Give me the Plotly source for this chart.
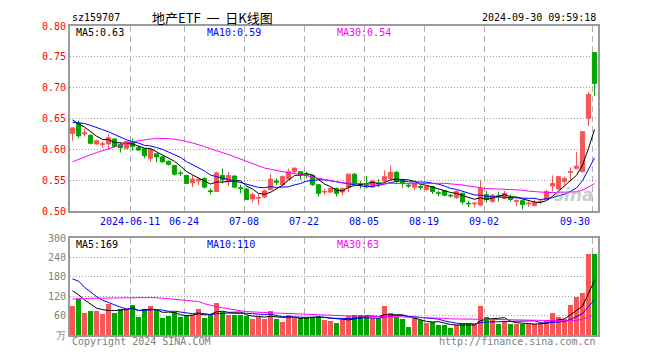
import plotly.graph_objects as go
import pandas as pd

W, H = 660, 360

dates = [
    "2024-05-27", "2024-05-28", "2024-05-29", "2024-05-30", "2024-05-31",
    "2024-06-03", "2024-06-04", "2024-06-05", "2024-06-06", "2024-06-07",
    "2024-06-11", "2024-06-12", "2024-06-13", "2024-06-14",
    "2024-06-17", "2024-06-18", "2024-06-19", "2024-06-20", "2024-06-21",
    "2024-06-24", "2024-06-25", "2024-06-26", "2024-06-27", "2024-06-28",
    "2024-07-01", "2024-07-02", "2024-07-03", "2024-07-04", "2024-07-05",
    "2024-07-08", "2024-07-09", "2024-07-10", "2024-07-11", "2024-07-12",
    "2024-07-15", "2024-07-16", "2024-07-17", "2024-07-18", "2024-07-19",
    "2024-07-22", "2024-07-23", "2024-07-24", "2024-07-25", "2024-07-26",
    "2024-07-29", "2024-07-30", "2024-07-31", "2024-08-01", "2024-08-02",
    "2024-08-05", "2024-08-06", "2024-08-07", "2024-08-08", "2024-08-09",
    "2024-08-12", "2024-08-13", "2024-08-14", "2024-08-15", "2024-08-16",
    "2024-08-19", "2024-08-20", "2024-08-21", "2024-08-22", "2024-08-23",
    "2024-08-26", "2024-08-27", "2024-08-28", "2024-08-29", "2024-08-30",
    "2024-09-02", "2024-09-03", "2024-09-04", "2024-09-05", "2024-09-06",
    "2024-09-09", "2024-09-10", "2024-09-11", "2024-09-12", "2024-09-13",
    "2024-09-18", "2024-09-19", "2024-09-20",
    "2024-09-23", "2024-09-24", "2024-09-25", "2024-09-26", "2024-09-27",
    "2024-09-30",
]

open_ = [
    0.626, 0.643, 0.625, 0.623, 0.609, 0.608, 0.609, 0.617, 0.608, 0.602,
    0.613, 0.603, 0.601, 0.586, 0.593, 0.588, 0.581, 0.574, 0.562, 0.558,
    0.546, 0.549, 0.553, 0.533, 0.532, 0.558, 0.548, 0.557, 0.538, 0.536,
    0.520, 0.521, 0.523, 0.535, 0.549, 0.543, 0.552, 0.564, 0.564, 0.559,
    0.558, 0.543, 0.531, 0.531, 0.537, 0.531, 0.538, 0.560, 0.543, 0.543,
    0.539, 0.546, 0.549, 0.553, 0.563, 0.550, 0.542, 0.539, 0.540, 0.535,
    0.540, 0.530, 0.533, 0.526, 0.522, 0.529, 0.513, 0.512, 0.510, 0.527,
    0.516, 0.525, 0.521, 0.522, 0.516, 0.517, 0.512, 0.509, 0.515, 0.519,
    0.541, 0.536, 0.548, 0.563, 0.569, 0.564, 0.650, 0.757,
]
high = [
    0.636, 0.647, 0.634, 0.624, 0.616, 0.613, 0.625, 0.618, 0.611, 0.614,
    0.618, 0.606, 0.602, 0.601, 0.594, 0.589, 0.582, 0.575, 0.566, 0.559,
    0.558, 0.553, 0.555, 0.537, 0.564, 0.569, 0.564, 0.558, 0.543, 0.537,
    0.530, 0.528, 0.535, 0.560, 0.553, 0.558, 0.569, 0.570, 0.565, 0.564,
    0.559, 0.544, 0.537, 0.539, 0.538, 0.538, 0.561, 0.562, 0.549, 0.557,
    0.550, 0.552, 0.566, 0.574, 0.565, 0.551, 0.544, 0.546, 0.543, 0.541,
    0.541, 0.533, 0.534, 0.528, 0.534, 0.530, 0.517, 0.514, 0.550, 0.533,
    0.528, 0.532, 0.533, 0.527, 0.519, 0.519, 0.516, 0.519, 0.518, 0.535,
    0.558, 0.557, 0.556, 0.571, 0.596, 0.629, 0.693, 0.757,
]
low = [
    0.614, 0.618, 0.621, 0.608, 0.608, 0.602, 0.600, 0.603, 0.595, 0.600,
    0.598, 0.598, 0.586, 0.580, 0.579, 0.578, 0.574, 0.558, 0.557, 0.544,
    0.539, 0.542, 0.537, 0.527, 0.531, 0.545, 0.541, 0.537, 0.529, 0.518,
    0.514, 0.510, 0.521, 0.534, 0.542, 0.541, 0.551, 0.561, 0.551, 0.553,
    0.541, 0.524, 0.526, 0.530, 0.524, 0.526, 0.531, 0.544, 0.537, 0.537,
    0.538, 0.539, 0.546, 0.550, 0.545, 0.538, 0.538, 0.534, 0.535, 0.533,
    0.528, 0.524, 0.524, 0.522, 0.520, 0.511, 0.507, 0.506, 0.508, 0.514,
    0.514, 0.516, 0.519, 0.516, 0.508, 0.503, 0.507, 0.508, 0.512, 0.518,
    0.532, 0.535, 0.543, 0.548, 0.569, 0.563, 0.638, 0.687,
]
close = [
    0.635, 0.622, 0.627, 0.610, 0.614, 0.609, 0.619, 0.605, 0.603, 0.613,
    0.605, 0.599, 0.590, 0.600, 0.588, 0.580, 0.576, 0.560, 0.561, 0.545,
    0.552, 0.552, 0.539, 0.532, 0.562, 0.551, 0.558, 0.539, 0.537, 0.519,
    0.527, 0.522, 0.533, 0.552, 0.547, 0.556, 0.564, 0.570, 0.558, 0.558,
    0.543, 0.529, 0.532, 0.537, 0.529, 0.537, 0.560, 0.545, 0.542, 0.540,
    0.549, 0.545, 0.556, 0.563, 0.548, 0.545, 0.541, 0.545, 0.539, 0.540,
    0.532, 0.529, 0.526, 0.525, 0.532, 0.515, 0.512, 0.513, 0.537, 0.519,
    0.526, 0.524, 0.529, 0.519, 0.517, 0.511, 0.513, 0.514, 0.516, 0.532,
    0.545, 0.556, 0.553, 0.564, 0.573, 0.629, 0.689, 0.707,
]
volume = [  # 万手
    89, 112, 70, 74, 74, 67, 98, 69, 80, 82,
    95, 56, 80, 89, 77, 53, 59, 72, 57, 62,
    62, 80, 54, 65, 101, 72, 62, 62, 62, 60,
    50, 58, 51, 75, 51, 42, 62, 52, 54, 58,
    58, 59, 47, 44, 39, 48, 60, 62, 62, 62,
    52, 52, 89, 68, 57, 50, 26, 54, 46, 39,
    40, 32, 32, 24, 32, 36, 34, 34, 90, 56,
    48, 36, 42, 35, 34, 36, 34, 35, 35, 45,
    70, 56, 49, 95, 119, 131, 252, 250,
]

# sessions before the visible window (feed the moving averages only)
history_close = [
    0.500, 0.505, 0.508, 0.512, 0.515, 0.515, 0.518, 0.520, 0.524, 0.533,
    0.545, 0.552, 0.560, 0.566, 0.575, 0.583, 0.592, 0.600, 0.610, 0.627,
    0.632, 0.636, 0.640, 0.644, 0.648, 0.655, 0.652, 0.650, 0.648,
]
history_volume = [
    60, 72, 58, 66, 70, 62, 64, 68, 60, 70,
    80, 88, 95, 90, 102, 110, 98, 105, 92, 110,
    180, 260, 230, 205, 180, 170, 150, 140, 136,
]

tick_dates = ["2024-06-11", "2024-06-24", "2024-07-08", "2024-07-22",
              "2024-08-05", "2024-08-19", "2024-09-02", "2024-09-30"]
tick_labels = ["2024-06-11", "06-24", "07-08", "07-22",
               "08-05", "08-19", "09-02", "09-30"]
price_ticks = [0.50, 0.55, 0.60, 0.65, 0.70, 0.75, 0.80]
vol_ticks = [0, 60, 120, 180, 240, 300]
vol_tick_text = ["万", "60", "120", "180", "240", "300"]

RED = "#f75656"
GREEN = "#00a600"
MA_COLORS = {5: "#000000", 10: "#0000ff", 30: "#ff00ff"}
MONO = "DejaVu Sans Mono"

n = len(dates)
nh = len(history_close)
xs = list(range(n))
cs = pd.Series(history_close + close)
vs = pd.Series(history_volume + volume)
ma_p = {k: cs.rolling(k).mean().iloc[nh:].tolist() for k in (5, 10, 30)}
ma_v = {k: vs.rolling(k).mean().iloc[nh:].tolist() for k in (5, 10, 30)}

up = [c >= o for o, c in zip(open_, close)]
bar_colors = [RED if u else GREEN for u in up]

fig = go.Figure()
fig.add_trace(go.Candlestick(
    x=xs, open=open_, high=high, low=low, close=close,
    increasing=dict(line=dict(color=RED, width=1), fillcolor=RED),
    decreasing=dict(line=dict(color=GREEN, width=1), fillcolor=GREEN),
    whiskerwidth=0, xaxis="x", yaxis="y", showlegend=False, hoverinfo="skip"))
for k in (5, 10, 30):
    fig.add_trace(go.Scatter(x=xs, y=ma_p[k], mode="lines",
                             line=dict(color=MA_COLORS[k], width=1),
                             xaxis="x", yaxis="y", showlegend=False, hoverinfo="skip"))
fig.add_trace(go.Bar(x=xs, y=volume, marker=dict(color=bar_colors, line=dict(width=0)),
                     width=0.84, xaxis="x2", yaxis="y2", showlegend=False, hoverinfo="skip"))
for k in (5, 10, 30):
    fig.add_trace(go.Scatter(x=xs, y=ma_v[k], mode="lines",
                             line=dict(color=MA_COLORS[k], width=1),
                             xaxis="x2", yaxis="y2", showlegend=False, hoverinfo="skip"))

# pixel layout
L, R = 70, 598
P_TOP, P_BOT = 20.7, 212.3
V_TOP, V_BOT = 240.0, 340.7
OFF = 0.417  # grid line sits at the left edge of a candle
xr = [-OFF, n - OFF]
grid_x = [dates.index(d) - OFF for d in tick_dates]

def fy(py):
    return 1 - py / H

axis_common = dict(showline=True, linecolor="#9a9a9a", linewidth=2, mirror=True,
                   zeroline=False, ticks="", fixedrange=True)
fig.update_layout(
    width=W, height=H, margin=dict(l=0, r=0, t=0, b=0),
    paper_bgcolor="white", plot_bgcolor="white",
    boxgap=0.3, boxgroupgap=0, bargap=0,
    xaxis=dict(domain=[L / W, R / W], range=xr, tickvals=grid_x, showticklabels=False,
               showgrid=True, gridcolor="#b0b0b0", griddash="6px,4px", gridwidth=1,
               rangeslider=dict(visible=False), anchor="y", **axis_common),
    yaxis=dict(domain=[fy(P_BOT), fy(P_TOP)], range=[0.50, 0.80], tickvals=price_ticks,
               ticktext=[f"{v:.2f}" for v in price_ticks],
               tickfont=dict(family=MONO, size=10, color="#ff0000"),
               showgrid=True, gridcolor="#a0a0a0", griddash="1px,2px", gridwidth=1,
               anchor="x", **axis_common),
    xaxis2=dict(domain=[L / W, R / W], range=xr, tickvals=grid_x, showticklabels=False,
                showgrid=True, gridcolor="#b0b0b0", griddash="6px,4px", gridwidth=1,
                anchor="y2", **axis_common),
    yaxis2=dict(domain=[fy(V_BOT), fy(V_TOP)], range=[0, 300], tickvals=vol_ticks,
                ticktext=vol_tick_text,
                tickfont=dict(family=MONO, size=10, color="#808080"),
                showgrid=True, gridcolor="#a0a0a0", griddash="1px,2px", gridwidth=1,
                anchor="x2", **axis_common),
)

ann = []
def text(x, y, s, color="#000", size=10, family=MONO, anchor="left", xref="paper"):
    ann.append(dict(x=x if xref != "paper" else x / W, y=fy(y), xref=xref, yref="paper",
                    text=s, showarrow=False, xanchor=anchor, yanchor="middle",
                    font=dict(family=family, size=size, color=color)))

text(70, 12, "sz159707")
text(150, 12, "地产ETF\u00a0\u00a0一\u00a0\u00a0日K线图", size=13, family="Noto Sans CJK SC")
text(598, 12, "2024-09-30 09:59:18", anchor="right")

text(74, 27, f"MA5:{ma_p[5][-1]:.2f}", color=MA_COLORS[5])
text(205, 27, f"MA10:{ma_p[10][-1]:.2f}", color=MA_COLORS[10])
text(335, 27, f"MA30:{ma_p[30][-1]:.2f}", color=MA_COLORS[30])

text(74, 247, f"MA5:{ma_v[5][-1]:.0f}", color=MA_COLORS[5])
text(205, 247, f"MA10:{ma_v[10][-1]:.0f}", color=MA_COLORS[10])
text(335, 247, f"MA30:{ma_v[30][-1]:.0f}", color=MA_COLORS[30])

for gx, lab in zip(grid_x, tick_labels):
    anc = "right" if lab == tick_labels[-1] else "center"
    text(gx, 223, lab, color="#0000ff", anchor=anc, xref="x")

text(70, 347, "Copyright 2024 SINA.COM", color="#808080")
text(598, 347, "http://finance.sina.com.cn", color="#808080", anchor="right")
text(596, 196, "<i><b>sina</b></i>", color="rgba(160,160,160,0.55)", size=17,
     family="DejaVu Sans", anchor="right")

fig.update_layout(annotations=ann)
fig.write_html("out.html", config={"displayModeBar": False, "staticPlot": True},
               post_script="document.body.style.margin='0';document.body.style.padding='0';")
